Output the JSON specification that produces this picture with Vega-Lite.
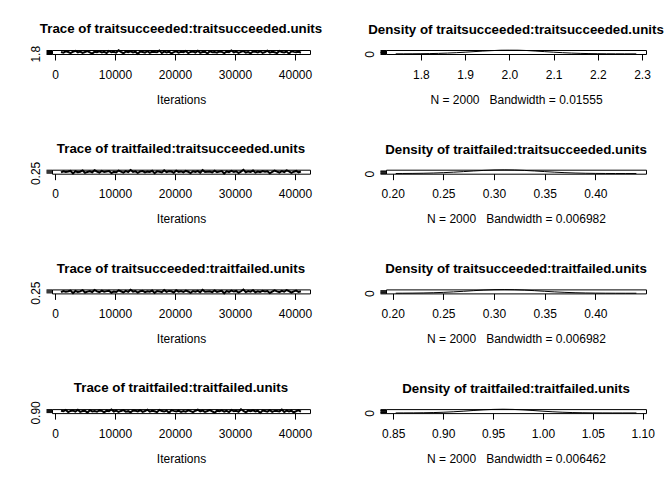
{
"$schema":"https://vega.github.io/schema/vega-lite/v6.json",
"padding":{"left":28,"top":21,"right":0,"bottom":0},
"background":"white",
"datasets":{
"trace":[
{"it":1001,"s":2.024,"fs":0.275,"ff":0.977},{"it":1401,"s":1.937,"fs":0.335,"ff":0.953},{"it":1801,"s":2.095,"fs":0.299,"ff":1.016},{"it":2201,"s":2.008,"fs":0.324,"ff":0.914},{"it":2601,"s":1.882,"fs":0.353,"ff":0.970},{"it":3001,"s":2.047,"fs":0.225,"ff":0.986},{"it":3401,"s":2.166,"fs":0.338,"ff":0.940},{"it":3801,"s":1.968,"fs":0.289,"ff":1.026},{"it":4201,"s":2.071,"fs":0.314,"ff":0.927},{"it":4601,"s":1.913,"fs":0.378,"ff":0.963},
{"it":5001,"s":2.016,"fs":0.257,"ff":0.980},{"it":5401,"s":2.126,"fs":0.303,"ff":0.891},{"it":5801,"s":1.976,"fs":0.331,"ff":1.006},{"it":6201,"s":1.826,"fs":0.282,"ff":0.950},{"it":6601,"s":2.055,"fs":0.388,"ff":0.967},{"it":7001,"s":2.000,"fs":0.317,"ff":0.930},{"it":7401,"s":2.087,"fs":0.271,"ff":0.996},{"it":7801,"s":1.953,"fs":0.356,"ff":0.973},{"it":8201,"s":2.032,"fs":0.296,"ff":0.907},{"it":8601,"s":1.897,"fs":0.328,"ff":0.983},
{"it":9001,"s":2.142,"fs":0.346,"ff":0.957},{"it":9401,"s":1.984,"fs":0.246,"ff":1.043},{"it":9801,"s":2.040,"fs":0.310,"ff":0.944},{"it":10201,"s":1.929,"fs":0.285,"ff":0.990},{"it":10601,"s":2.221,"fs":0.367,"ff":0.920},{"it":11001,"s":2.024,"fs":0.321,"ff":0.970},{"it":11401,"s":1.866,"fs":0.267,"ff":1.013},{"it":11801,"s":2.063,"fs":0.342,"ff":0.937},{"it":12201,"s":1.992,"fs":0.292,"ff":0.960},{"it":12601,"s":2.103,"fs":0.399,"ff":0.901},
{"it":13001,"s":1.961,"fs":0.306,"ff":0.993},{"it":13401,"s":2.047,"fs":0.335,"ff":0.977},{"it":13801,"s":1.795,"fs":0.253,"ff":0.947},{"it":14201,"s":2.079,"fs":0.324,"ff":1.003},{"it":14601,"s":2.016,"fs":0.349,"ff":0.924},{"it":15001,"s":1.945,"fs":0.278,"ff":0.967},{"it":15401,"s":2.119,"fs":0.317,"ff":1.033},{"it":15801,"s":1.921,"fs":0.299,"ff":0.934},{"it":16201,"s":2.032,"fs":0.360,"ff":0.980},{"it":16601,"s":2.008,"fs":0.235,"ff":0.953},
{"it":17001,"s":1.976,"fs":0.331,"ff":0.911},{"it":17401,"s":2.182,"fs":0.314,"ff":1.023},{"it":17801,"s":1.905,"fs":0.275,"ff":0.963},{"it":18201,"s":2.071,"fs":0.381,"ff":0.940},{"it":18601,"s":1.968,"fs":0.289,"ff":0.986},{"it":19001,"s":2.055,"fs":0.338,"ff":0.881},{"it":19401,"s":1.850,"fs":0.321,"ff":1.000},{"it":19801,"s":2.000,"fs":0.260,"ff":0.973},{"it":20201,"s":2.095,"fs":0.370,"ff":0.950},{"it":20601,"s":1.937,"fs":0.303,"ff":0.983},
{"it":21001,"s":2.040,"fs":0.328,"ff":0.927},{"it":21401,"s":1.984,"fs":0.282,"ff":0.970},{"it":21801,"s":2.134,"fs":0.353,"ff":0.934},{"it":22201,"s":1.889,"fs":0.310,"ff":1.000},{"it":22601,"s":2.024,"fs":0.243,"ff":0.963},{"it":23001,"s":2.063,"fs":0.335,"ff":0.911},{"it":23401,"s":1.953,"fs":0.296,"ff":0.980},{"it":23801,"s":2.158,"fs":0.342,"ff":1.029},{"it":24201,"s":1.921,"fs":0.267,"ff":0.947},{"it":24601,"s":2.008,"fs":0.392,"ff":0.990},
{"it":25001,"s":2.047,"fs":0.299,"ff":0.924},{"it":25401,"s":1.834,"fs":0.314,"ff":0.967},{"it":25801,"s":2.111,"fs":0.324,"ff":1.013},{"it":26201,"s":1.976,"fs":0.275,"ff":0.950},{"it":26601,"s":2.016,"fs":0.363,"ff":0.887},{"it":27001,"s":1.929,"fs":0.285,"ff":0.983},{"it":27401,"s":2.087,"fs":0.317,"ff":0.960},{"it":27801,"s":2.032,"fs":0.346,"ff":0.996},{"it":28201,"s":1.874,"fs":0.218,"ff":0.940},{"it":28601,"s":2.055,"fs":0.331,"ff":0.973},
{"it":29001,"s":1.992,"fs":0.292,"ff":0.917},{"it":29401,"s":2.198,"fs":0.356,"ff":1.019},{"it":29801,"s":1.961,"fs":0.306,"ff":0.953},{"it":30201,"s":2.071,"fs":0.338,"ff":0.977},{"it":30601,"s":1.905,"fs":0.250,"ff":0.930},{"it":31001,"s":2.024,"fs":0.321,"ff":1.052},{"it":31401,"s":2.126,"fs":0.409,"ff":0.970},{"it":31801,"s":1.945,"fs":0.278,"ff":0.904},{"it":32201,"s":2.000,"fs":0.328,"ff":0.986},{"it":32601,"s":1.858,"fs":0.303,"ff":0.957},
{"it":33001,"s":2.079,"fs":0.374,"ff":1.003},{"it":33401,"s":2.040,"fs":0.264,"ff":0.944},{"it":33801,"s":1.968,"fs":0.324,"ff":0.980},{"it":34201,"s":2.103,"fs":0.289,"ff":0.874},{"it":34601,"s":1.913,"fs":0.349,"ff":0.993},{"it":35001,"s":2.016,"fs":0.310,"ff":0.967},{"it":35401,"s":2.174,"fs":0.335,"ff":0.937},{"it":35801,"s":1.937,"fs":0.232,"ff":1.010},{"it":36201,"s":2.047,"fs":0.299,"ff":0.927},{"it":36601,"s":1.984,"fs":0.367,"ff":0.973},
{"it":37001,"s":1.882,"fs":0.317,"ff":0.963},{"it":37401,"s":2.150,"fs":0.271,"ff":0.950},{"it":37801,"s":2.008,"fs":0.342,"ff":1.036},{"it":38201,"s":1.953,"fs":0.296,"ff":0.920},{"it":38601,"s":2.063,"fs":0.385,"ff":0.990},{"it":39001,"s":1.810,"fs":0.331,"ff":0.947},{"it":39401,"s":2.095,"fs":0.257,"ff":0.983},{"it":39801,"s":2.032,"fs":0.314,"ff":0.897},{"it":40201,"s":1.976,"fs":0.353,"ff":0.960},{"it":40601,"s":2.055,"fs":0.282,"ff":1.000},
{"it":40981,"s":1.921,"fs":0.321,"ff":0.934}
],
"dens1":[
{"x":1.743,"d":0.026},{"x":1.76,"d":0.05},{"x":1.78,"d":0.106},{"x":1.80,"d":0.21},{"x":1.82,"d":0.37},{"x":1.84,"d":0.64},{"x":1.86,"d":1.05},{"x":1.88,"d":1.59},{"x":1.90,"d":2.27},{"x":1.92,"d":3.03},{"x":1.94,"d":3.78},{"x":1.96,"d":4.36},{"x":1.98,"d":4.95},{"x":2.00,"d":5.0},{"x":2.02,"d":4.97},{"x":2.04,"d":4.52},{"x":2.06,"d":3.78},{"x":2.08,"d":3.03},{"x":2.10,"d":2.27},{"x":2.12,"d":1.59},{"x":2.14,"d":1.05},{"x":2.16,"d":0.64},{"x":2.18,"d":0.37},{"x":2.20,"d":0.21},{"x":2.22,"d":0.106},{"x":2.24,"d":0.05},{"x":2.26,"d":0.026},{"x":2.287,"d":0.01}
],
"dens2":[
{"x":0.203,"d":0.11},{"x":0.21,"d":0.21},{"x":0.22,"d":0.45},{"x":0.23,"d":0.88},{"x":0.24,"d":1.60},{"x":0.25,"d":2.68},{"x":0.26,"d":4.15},{"x":0.27,"d":5.94},{"x":0.28,"d":7.84},{"x":0.29,"d":9.55},{"x":0.30,"d":10.76},{"x":0.31,"d":11.2},{"x":0.32,"d":10.76},{"x":0.33,"d":9.55},{"x":0.34,"d":7.84},{"x":0.35,"d":5.94},{"x":0.36,"d":4.15},{"x":0.37,"d":2.68},{"x":0.38,"d":1.60},{"x":0.39,"d":0.88},{"x":0.40,"d":0.45},{"x":0.41,"d":0.21},{"x":0.42,"d":0.092},{"x":0.43,"d":0.037},{"x":0.4405,"d":0.012}
],
"dens4":[
{"x":0.8524,"d":0.05},{"x":0.86,"d":0.116},{"x":0.87,"d":0.28},{"x":0.88,"d":0.62},{"x":0.89,"d":1.24},{"x":0.90,"d":2.27},{"x":0.91,"d":3.78},{"x":0.92,"d":5.75},{"x":0.93,"d":7.96},{"x":0.94,"d":10.05},{"x":0.95,"d":11.55},{"x":0.96,"d":12.1},{"x":0.97,"d":11.55},{"x":0.98,"d":10.05},{"x":0.99,"d":7.96},{"x":1.00,"d":5.75},{"x":1.01,"d":3.78},{"x":1.02,"d":2.27},{"x":1.03,"d":1.24},{"x":1.04,"d":0.62},{"x":1.05,"d":0.28},{"x":1.06,"d":0.116},{"x":1.07,"d":0.043},{"x":1.08,"d":0.015},{"x":1.0937,"d":0.004}
]
},
"spacing":119.7,
"bounds":"flush",
"vconcat":[
{"spacing":76,"bounds":"flush","hconcat":[
{"width":258,"height":4,"title":{"text":"Trace of traitsucceeded:traitsucceeded.units","offset":10},"data":{"name":"trace"},"mark":{"type":"line","color":"black","strokeWidth":2},
"encoding":{"x":{"field":"it","type":"quantitative","scale":{"domain":[-500,42500],"nice":false,"zero":false},"axis":{"title":"Iterations","values":[0,10000,20000,30000,40000],"format":"d"}},
"y":{"field":"s","type":"quantitative","scale":{"domain":[1.772,2.258],"nice":false,"zero":false},"axis":{"title":null,"values":[1.8,1.9,2.0,2.1,2.2],"format":".1f","labelExpr":"datum.value < 1.85 ? datum.label : ''"}}}},
{"width":260,"height":4,"title":{"text":"Density of traitsucceeded:traitsucceeded.units","offset":12},"data":{"name":"dens1"},"mark":{"type":"line","color":"black","strokeWidth":1},
"encoding":{"x":{"field":"x","type":"quantitative","scale":{"domain":[1.721,2.309],"nice":false,"zero":false},"axis":{"title":"N = 2000\u00a0\u00a0\u00a0Bandwidth = 0.01555","values":[1.8,1.9,2.0,2.1,2.2,2.3],"format":".1f"}},
"y":{"field":"d","type":"quantitative","scale":{"domain":[-0.2,5.25],"nice":false,"zero":false},"axis":{"title":null,"values":[0,1,2,3,4,5],"labelExpr":"datum.value == 0 ? '0' : ''"}}}}
]},
{"spacing":76,"bounds":"flush","hconcat":[
{"width":258,"height":4,"title":{"text":"Trace of traitfailed:traitsucceeded.units","offset":6},"data":{"name":"trace"},"mark":{"type":"line","color":"black","strokeWidth":2},
"encoding":{"x":{"field":"it","type":"quantitative","scale":{"domain":[-500,42500],"nice":false,"zero":false},"axis":{"title":"Iterations","values":[0,10000,20000,30000,40000],"format":"d"}},
"y":{"field":"fs","type":"quantitative","scale":{"domain":[0.211,0.417],"nice":false,"zero":false},"axis":{"title":null,"values":[0.25,0.3,0.35,0.4],"format":".2f","labelExpr":"datum.value < 0.27 ? datum.label : ''"}}}},
{"width":260,"height":4,"title":{"text":"Density of traitfailed:traitsucceeded.units","offset":12},"data":{"name":"dens2"},"mark":{"type":"line","color":"black","strokeWidth":1},
"encoding":{"x":{"field":"x","type":"quantitative","scale":{"domain":[0.1934,0.450],"nice":false,"zero":false},"axis":{"title":"N = 2000\u00a0\u00a0\u00a0Bandwidth = 0.006982","values":[0.2,0.25,0.3,0.35,0.4],"format":".2f"}},
"y":{"field":"d","type":"quantitative","scale":{"domain":[-0.45,11.65],"nice":false,"zero":false},"axis":{"title":null,"values":[0,2,4,6,8,10],"labelExpr":"datum.value == 0 ? '0' : ''"}}}}
]},
{"spacing":76,"bounds":"flush","hconcat":[
{"width":258,"height":4,"title":{"text":"Trace of traitsucceeded:traitfailed.units","offset":6},"data":{"name":"trace"},"mark":{"type":"line","color":"black","strokeWidth":2},
"encoding":{"x":{"field":"it","type":"quantitative","scale":{"domain":[-500,42500],"nice":false,"zero":false},"axis":{"title":"Iterations","values":[0,10000,20000,30000,40000],"format":"d"}},
"y":{"field":"fs","type":"quantitative","scale":{"domain":[0.211,0.417],"nice":false,"zero":false},"axis":{"title":null,"values":[0.25,0.3,0.35,0.4],"format":".2f","labelExpr":"datum.value < 0.27 ? datum.label : ''"}}}},
{"width":260,"height":4,"title":{"text":"Density of traitsucceeded:traitfailed.units","offset":12},"data":{"name":"dens2"},"mark":{"type":"line","color":"black","strokeWidth":1},
"encoding":{"x":{"field":"x","type":"quantitative","scale":{"domain":[0.1934,0.450],"nice":false,"zero":false},"axis":{"title":"N = 2000\u00a0\u00a0\u00a0Bandwidth = 0.006982","values":[0.2,0.25,0.3,0.35,0.4],"format":".2f"}},
"y":{"field":"d","type":"quantitative","scale":{"domain":[-0.45,11.65],"nice":false,"zero":false},"axis":{"title":null,"values":[0,2,4,6,8,10],"labelExpr":"datum.value == 0 ? '0' : ''"}}}}
]},
{"spacing":76,"bounds":"flush","hconcat":[
{"width":258,"height":4,"title":{"text":"Trace of traitfailed:traitfailed.units","offset":6},"data":{"name":"trace"},"mark":{"type":"line","color":"black","strokeWidth":2},
"encoding":{"x":{"field":"it","type":"quantitative","scale":{"domain":[-500,42500],"nice":false,"zero":false},"axis":{"title":"Iterations","values":[0,10000,20000,30000,40000],"format":"d"}},
"y":{"field":"ff","type":"quantitative","scale":{"domain":[0.867,1.059],"nice":false,"zero":false},"axis":{"title":null,"values":[0.9,0.95,1.0,1.05],"format":".2f","labelExpr":"datum.value < 0.92 ? datum.label : ''"}}}},
{"width":260,"height":4,"title":{"text":"Density of traitfailed:traitfailed.units","offset":12},"data":{"name":"dens4"},"mark":{"type":"line","color":"black","strokeWidth":1},
"encoding":{"x":{"field":"x","type":"quantitative","scale":{"domain":[0.8427,1.1033],"nice":false,"zero":false},"axis":{"title":"N = 2000\u00a0\u00a0\u00a0Bandwidth = 0.006462","values":[0.85,0.9,0.95,1.0,1.05,1.1],"format":".2f"}},
"y":{"field":"d","type":"quantitative","scale":{"domain":[-0.48,12.58],"nice":false,"zero":false},"axis":{"title":null,"values":[0,2,4,6,8,10,12],"labelExpr":"datum.value == 0 ? '0' : ''"}}}}
]}
],
"config":{
"font":"Liberation Sans",
"view":{"stroke":"black","strokeWidth":1},
"axis":{"domain":false,"grid":false,"ticks":true,"tickColor":"black","tickSize":6,"tickWidth":1,"labelFont":"Liberation Sans","labelFontSize":12,"labelColor":"black","titleFont":"Liberation Sans","titleFontSize":12,"titleFontWeight":"normal","titleColor":"black","labelOverlap":false,"labelFlush":false},
"axisX":{"labelPadding":9,"titlePadding":14},
"axisY":{"labelAngle":-90,"labelAlign":"center","labelBaseline":"alphabetic","labelPadding":7},
"title":{"font":"Liberation Sans","fontSize":13.3,"fontWeight":"bold","color":"black","anchor":"middle"}
}
}
